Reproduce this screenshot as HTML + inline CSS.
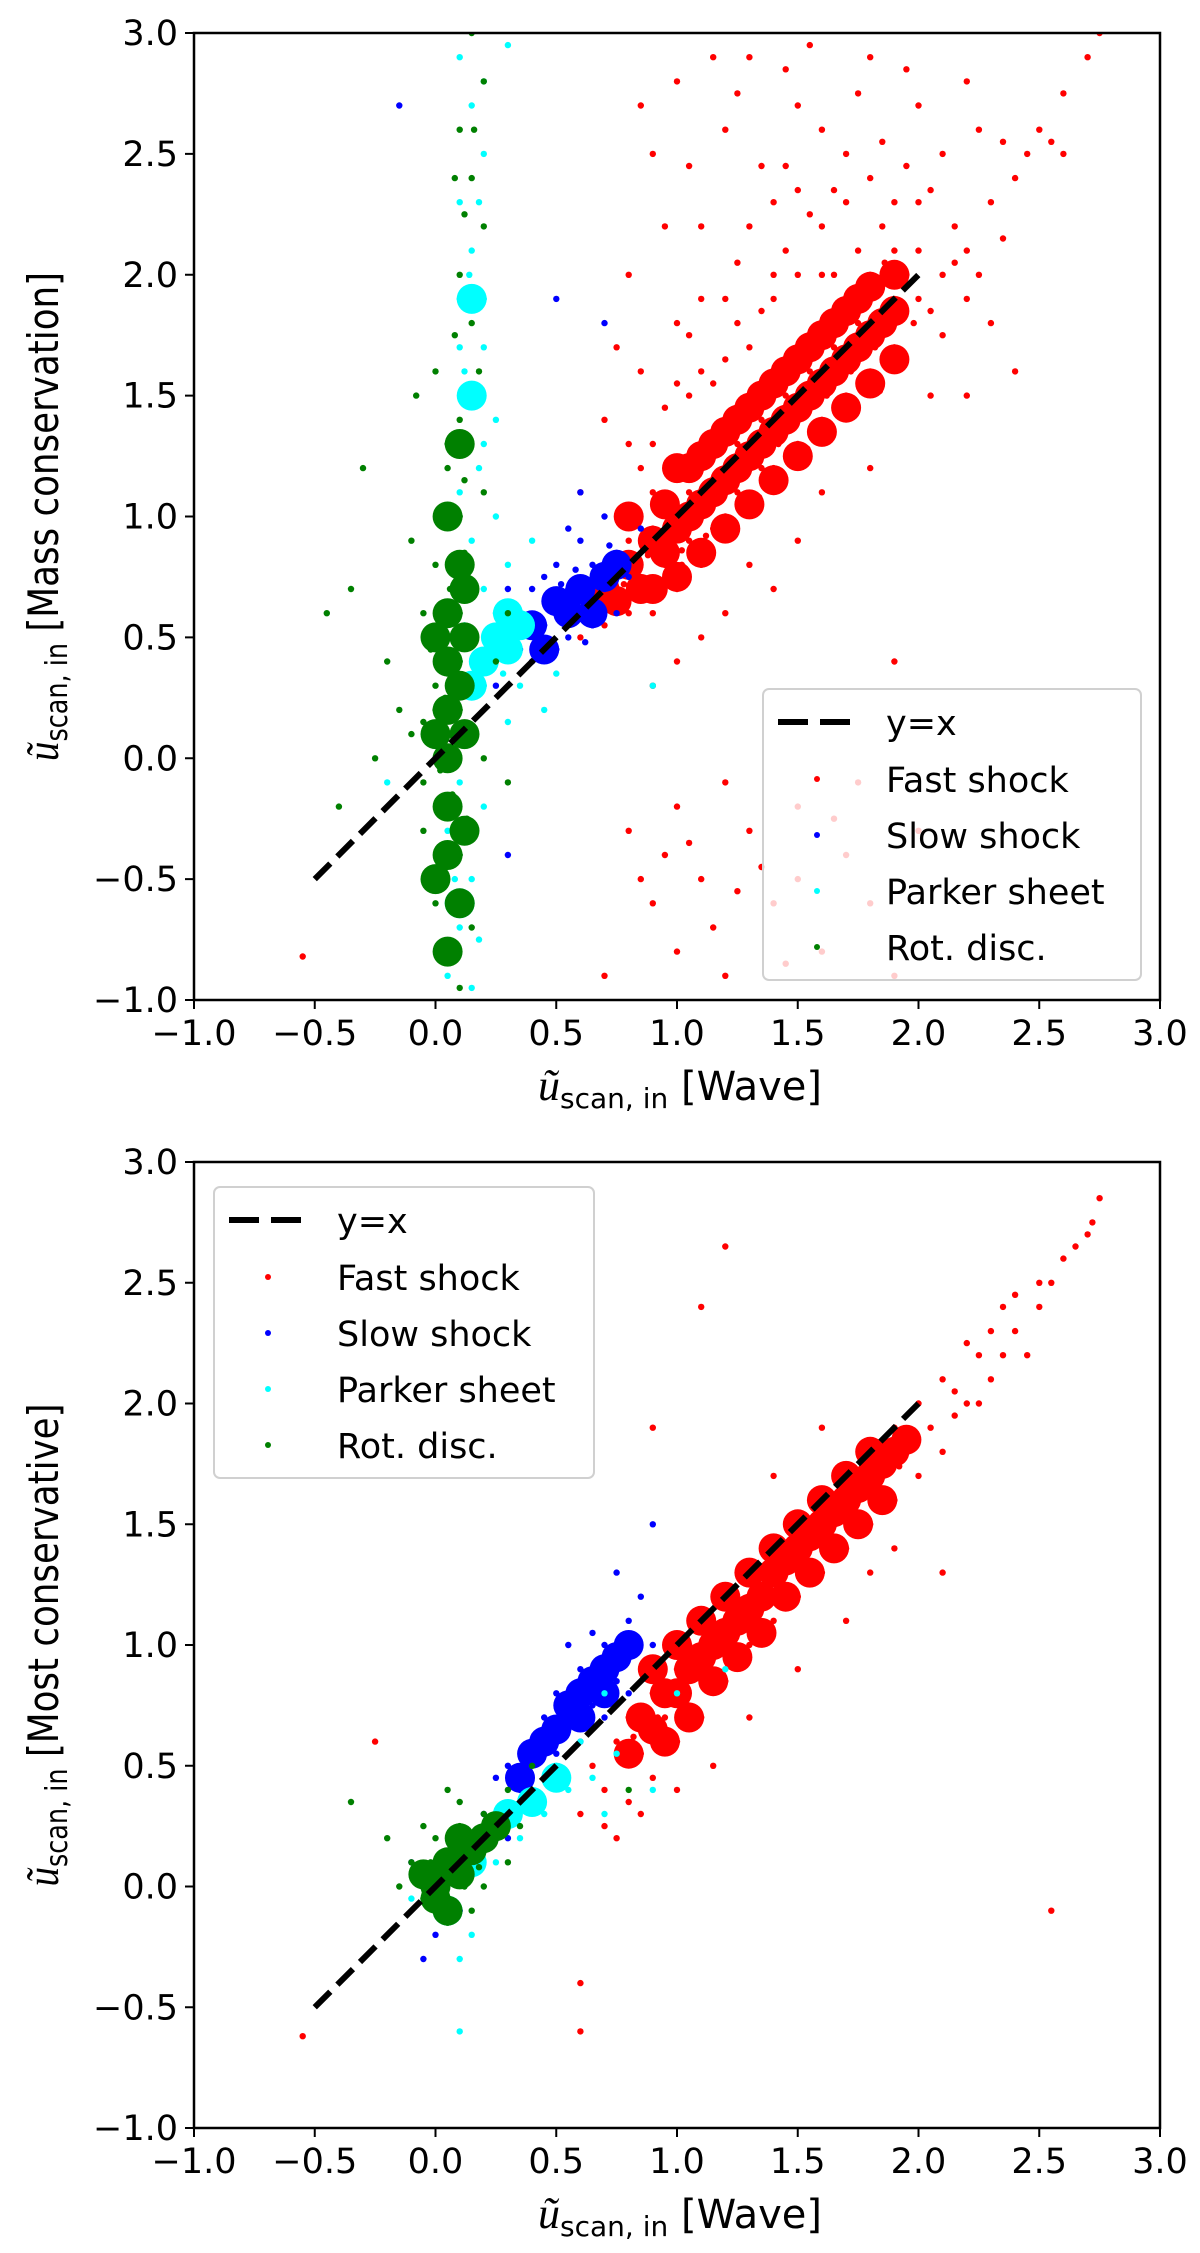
<!DOCTYPE html>
<html><head><meta charset="utf-8">
<style>
html,body{margin:0;padding:0;background:#fff;}
svg{display:block;}
text{font-family:"DejaVu Sans","Liberation Sans",sans-serif;}
</style></head>
<body>
<svg id="fig" width="1200" height="2253" viewBox="0 0 1200 2253" xmlns="http://www.w3.org/2000/svg"></svg>
<script>
// ---------- data ----------
const xTicks = [-1.0,-0.5,0.0,0.5,1.0,1.5,2.0,2.5,3.0];
const yTicks = [-1.0,-0.5,0.0,0.5,1.0,1.5,2.0,2.5,3.0];
const tickLabels = ["\u22121.0","\u22120.5","0.0","0.5","1.0","1.5","2.0","2.5","3.0"];
const seriesNames = ["Fast shock","Slow shock","Parker sheet","Rot. disc."];
const seriesColors = ["#ff0000","#0000ff","#00ffff","#008000"];
const refLine = [-0.5, 2.0];

// top panel (Mass conservation) points as flat x,y lists
const topFast = [0.6,0.5,0.65,0.7,0.7,0.55,0.75,0.8,0.8,0.6,0.8,0.9,0.85,0.75,0.9,0.95,0.9,0.6,0.95,0.8,1.0,1.0,1.0,0.7,1.0,1.2,1.05,0.9,1.05,1.1,1.1,1.0,1.1,0.8,1.1,1.3,1.15,1.15,1.15,0.95,1.2,1.2,1.2,1.0,1.2,1.4,1.25,1.1,1.25,1.3,1.3,1.3,1.3,1.05,1.3,1.5,1.35,1.2,1.35,1.4,1.4,1.4,1.4,1.2,1.4,1.6,1.45,1.35,1.45,1.5,1.5,1.5,1.5,1.3,1.5,1.7,1.55,1.45,1.55,1.6,1.6,1.6,1.6,1.4,1.6,1.8,1.65,1.55,1.65,1.7,1.7,1.7,1.7,1.5,1.7,1.9,1.75,1.65,1.75,1.8,1.8,1.8,1.8,1.6,1.8,2.0,1.85,1.75,1.9,1.9,1.9,1.7,1.95,2.0,2.0,1.9,2.0,2.1,2.05,1.85,2.1,2.0,2.2,2.1,2.3,2.3,2.4,2.4,2.5,2.6,2.6,2.5,2.7,2.9,2.75,3.0,
0.72,0.66,0.78,0.72,0.88,0.84,0.92,0.74,0.98,0.92,1.02,0.86,1.08,1.04,1.12,0.92,1.18,1.08,1.22,1.14,1.28,1.2,1.32,1.22,1.38,1.32,1.42,1.3,1.48,1.42,1.52,1.44,1.58,1.52,1.62,1.5,1.68,1.62,1.72,1.6,1.78,1.72,1.82,1.7,1.88,1.82,1.92,1.84,1.98,1.8,0.96,1.06,1.06,1.2,1.16,1.3,1.26,1.45,1.36,1.56,1.46,1.65,1.56,1.75,1.66,1.86,1.76,1.95,1.86,2.05,1.02,0.8,1.14,0.86,1.24,0.96,1.34,1.08,1.44,1.16,1.54,1.28,1.64,1.36,1.74,1.46,1.84,1.52,
0.7,1.4,0.8,2.0,0.9,2.5,1.0,1.8,1.0,2.8,1.1,2.2,1.2,2.6,1.2,1.9,1.3,2.9,1.4,2.3,1.4,1.9,1.5,2.7,1.6,2.2,1.7,2.5,1.8,2.9,1.9,2.3,2.0,2.7,2.1,2.5,2.2,2.8,2.3,1.8,2.4,1.6,2.2,1.5,0.6,1.1,0.85,1.6,1.1,1.6,1.3,1.7,1.5,2.0,1.6,2.6,0.95,2.2,1.15,2.9,1.75,2.1,2.05,1.5,0.9,1.3,1.05,1.5,1.25,1.8,1.45,2.1,1.65,2.0,1.85,2.2,2.15,2.2,2.25,2.0,2.35,2.55,2.55,2.55,1.35,2.45,0.75,1.7,
0.85,1.2,0.95,1.45,1.05,1.75,1.15,1.55,1.25,2.05,1.35,1.85,1.45,2.45,1.55,2.25,1.65,2.35,1.75,2.75,1.85,2.55,1.95,2.45,2.05,2.35,2.15,2.05,2.25,2.6,2.35,2.15,2.45,2.5,2.6,2.75,0.8,1.3,0.9,1.1,1.0,1.55,1.1,1.9,1.2,1.65,1.3,2.2,1.4,2.0,1.5,2.35,1.6,2.0,1.7,2.3,1.8,2.4,1.9,2.1,2.0,2.3,2.1,1.75,2.2,1.9,1.05,2.45,1.25,2.75,1.45,2.85,0.85,2.7,1.55,2.95,1.95,2.85,
0.9,0.3,1.1,0.5,1.2,0.6,1.3,0.8,1.5,0.9,1.6,1.1,1.8,1.2,1.9,0.4,1.4,0.7,1.0,0.4,
0.8,-0.3,0.9,-0.6,1.0,-0.2,1.0,-0.8,1.1,-0.5,1.2,-0.9,1.3,-0.3,1.4,-0.6,1.5,-0.2,1.6,-0.8,1.7,-0.4,1.8,-0.6,1.9,-0.9,2.0,-0.3,1.2,-0.1,1.5,-0.5,-0.55,-0.82,0.95,-0.4,1.15,-0.7,1.35,-0.45,1.75,-0.1,0.85,-0.5,1.05,-0.35,1.25,-0.55,1.45,-0.85,1.65,-0.25,0.7,-0.9];
const topFastCore = [0.7,0.7,0.75,0.65,0.8,0.8,0.85,0.7,0.9,0.9,0.95,0.85,1.0,0.95,1.05,1.0,1.1,1.05,1.15,1.1,1.2,1.15,1.25,1.2,1.3,1.25,1.35,1.3,1.4,1.35,1.45,1.4,1.5,1.45,1.55,1.5,1.6,1.55,1.65,1.6,1.7,1.65,1.75,1.7,1.8,1.75,1.85,1.8,1.9,1.85,
0.8,1.0,0.9,0.7,1.0,1.2,1.0,0.75,1.1,1.25,1.1,0.85,1.2,1.35,1.2,0.95,1.3,1.45,1.3,1.05,1.4,1.55,1.4,1.15,1.5,1.65,1.5,1.25,1.6,1.75,1.6,1.35,1.7,1.85,1.7,1.45,1.8,1.95,1.8,1.55,1.9,2.0,1.9,1.65,0.95,1.05,1.05,1.2,1.15,1.3,1.25,1.4,1.35,1.5,1.45,1.6,1.55,1.7,1.65,1.8,1.75,1.9];
const topSlow = [0.3,0.5,0.35,0.6,0.4,0.4,0.4,0.7,0.45,0.55,0.5,0.6,0.5,0.8,0.55,0.5,0.55,0.7,0.6,0.65,0.6,0.9,0.65,0.55,0.65,0.8,0.7,0.7,0.7,1.0,0.75,0.6,0.75,0.85,0.8,0.75,0.45,0.75,0.5,0.45,0.35,0.45,0.6,1.1,0.7,1.8,-0.15,2.7,0.25,0.3,0.85,0.95,0.3,0.7,0.55,0.95,0.48,0.66,0.58,0.78,0.68,0.62,0.62,0.48,0.42,0.58,0.52,0.72,0.72,0.88,0.5,1.9,0.3,-0.4];
const topSlowCore = [0.4,0.55,0.5,0.65,0.6,0.7,0.7,0.75,0.55,0.6,0.65,0.6,0.45,0.45,0.75,0.8];
const topParker = [0.1,2.9,0.15,2.7,0.2,2.5,0.1,2.3,0.15,2.1,0.2,1.9,0.1,1.7,0.15,1.5,0.2,1.3,0.1,1.1,0.15,0.9,0.2,0.7,0.25,0.6,0.3,0.5,0.1,0.4,0.2,0.3,0.05,0.2,0.15,0.1,0.0,0.0,0.1,-0.1,0.05,-0.3,0.15,-0.5,0.1,-0.7,0.05,-0.9,0.15,-0.95,0.3,0.8,0.35,0.3,0.4,0.9,0.25,1.0,0.45,0.2,0.5,0.35,0.2,-0.2,0.1,1.9,0.18,2.3,0.25,1.4,0.3,0.15,-0.2,-0.1,0.9,0.3,0.22,0.45,0.28,0.35,0.12,0.55,0.08,-0.5,0.18,-0.75,0.3,2.95,0.2,2.8,0.12,1.6,0.18,1.2,0.14,2.0,0.2,1.7,0.1,0.8];
const topParkerCore = [0.2,0.4,0.25,0.5,0.15,0.3,0.3,0.45,0.15,1.9,0.15,1.5,0.1,-0.6,0.3,0.6,0.35,0.55];
const topRot = [0.0,0.0,0.05,0.1,0.1,0.2,-0.05,-0.1,0.0,0.3,0.05,0.5,0.1,0.4,-0.05,0.6,0.15,0.7,0.0,0.8,0.1,1.0,-0.1,0.9,0.05,1.2,0.2,1.1,0.1,1.4,0.0,1.6,0.15,1.8,0.1,2.0,0.2,2.2,0.15,2.4,0.1,2.6,0.2,2.8,0.15,3.0,-0.05,-0.3,0.1,-0.4,0.0,-0.6,0.15,-0.7,0.05,-0.8,0.1,-0.95,-0.2,0.4,-0.3,1.2,-0.35,0.7,-0.15,0.2,0.25,0.4,0.3,0.6,0.2,0.0,0.05,-0.2,-0.1,0.1,0.0,0.2,0.1,0.6,-0.4,-0.2,0.3,-0.1,0.05,0.35,-0.05,0.15,-0.45,0.6,-0.25,0.0,0.02,0.05,0.08,0.12,0.04,0.25,0.12,0.3,-0.02,0.45,0.06,0.7,0.12,0.85,0.02,-0.05,0.07,-0.15,0.13,-0.25,-0.08,1.5,0.08,1.75,0.12,2.25,0.05,1.3,0.12,1.15,0.18,1.6,0.08,2.4,0.16,2.6];
const topRotCore = [0.05,0.0,0.05,0.2,0.05,0.4,0.05,0.6,0.05,-0.2,0.0,0.1,0.1,0.3,0.05,-0.4,0.1,0.8,0.05,1.0,0.1,-0.6,0.05,-0.8,0.1,1.3,0.12,0.1,0.12,0.5,0.0,0.5,0.12,-0.3,0.0,-0.5,0.12,0.7];

// bottom panel (Most conservative)
const botFast = [0.6,0.3,0.65,0.5,0.7,0.4,0.75,0.6,0.8,0.35,0.8,0.7,0.85,0.55,0.9,0.8,0.9,0.45,0.95,0.7,1.0,0.9,1.0,0.6,1.05,1.0,1.05,0.75,1.1,0.9,1.1,1.1,1.1,0.7,1.15,1.0,1.2,1.2,1.2,0.85,1.25,1.1,1.25,0.95,1.3,1.3,1.3,1.0,1.35,1.2,1.4,1.4,1.4,1.1,1.45,1.3,1.5,1.5,1.5,1.2,1.55,1.4,1.6,1.6,1.6,1.3,1.65,1.5,1.7,1.7,1.7,1.4,1.75,1.6,1.8,1.8,1.8,1.5,1.85,1.7,1.9,1.9,1.9,1.6,1.95,1.8,2.0,2.0,2.0,1.7,2.05,1.9,2.1,2.1,2.1,1.8,2.2,2.0,2.25,2.2,2.3,2.1,2.35,2.4,2.4,2.3,2.5,2.4,2.55,2.5,2.7,2.7,2.75,2.85,2.6,2.6,
0.82,0.62,0.88,0.66,0.92,0.7,0.98,0.82,1.02,0.78,1.08,0.94,1.12,0.96,1.18,1.04,1.22,1.02,1.28,1.16,1.32,1.14,1.38,1.26,1.42,1.24,1.48,1.36,1.52,1.34,1.58,1.46,1.62,1.44,1.68,1.56,1.72,1.54,1.78,1.66,1.82,1.64,1.88,1.76,1.92,1.74,1.98,1.86,2.15,1.95,2.45,2.2,1.06,1.08,1.16,1.18,1.26,1.28,1.36,1.38,1.46,1.48,1.56,1.58,1.66,1.68,1.76,1.78,
2.2,2.25,2.3,2.3,2.4,2.45,2.5,2.5,2.15,2.05,2.25,2.0,2.35,2.2,2.65,2.65,2.72,2.75,
0.9,1.9,1.1,2.4,1.2,2.65,2.55,-0.1,0.6,-0.4,0.6,-0.6,-0.55,-0.62,-0.25,0.6,0.75,0.2,1.0,0.4,1.3,0.7,1.5,0.9,1.7,1.1,2.1,1.3,1.15,0.5,1.6,1.9,1.4,1.7,0.7,0.25,0.85,0.3,1.8,1.3,1.9,1.4];
const botFastCore = [0.8,0.55,0.85,0.7,0.9,0.65,0.95,0.8,1.0,0.8,1.05,0.9,1.1,0.95,1.15,1.0,1.2,1.05,1.25,1.1,1.3,1.15,1.35,1.2,1.4,1.3,1.45,1.35,1.5,1.4,1.55,1.45,1.6,1.5,1.65,1.55,1.7,1.6,1.75,1.65,1.8,1.7,1.85,1.75,1.9,1.8,1.95,1.85,
0.9,0.9,1.0,1.0,1.1,1.1,1.2,1.2,1.3,1.3,1.4,1.4,1.5,1.5,1.6,1.6,1.7,1.7,1.8,1.8,0.95,0.6,1.05,0.7,1.15,0.85,1.25,0.95,1.35,1.05,1.45,1.2,1.55,1.3,1.65,1.4,1.75,1.5,1.85,1.6];
const botSlow = [0.2,0.3,0.3,0.5,0.35,0.4,0.4,0.6,0.45,0.7,0.5,0.55,0.5,0.8,0.55,0.65,0.6,0.9,0.6,0.6,0.65,0.75,0.7,1.0,0.7,0.7,0.75,0.85,0.8,1.1,0.8,0.8,0.85,1.2,0.9,1.0,0.55,1.0,0.45,0.45,0.3,0.2,0.25,0.45,0.65,1.05,0.75,1.3,0.9,1.5,0.1,-0.1,-0.05,-0.3,0.0,-0.2,-0.1,0.1,0.52,0.68,0.62,0.8,0.72,0.88,0.58,0.74,0.68,0.92,0.42,0.52,0.78,0.96];
const botSlowCore = [0.4,0.55,0.5,0.65,0.55,0.75,0.6,0.8,0.65,0.85,0.7,0.9,0.75,0.95,0.45,0.6,0.8,1.0,0.35,0.45,0.6,0.7,0.7,0.8];
const botParker = [0.0,0.0,0.05,-0.1,0.1,0.1,0.15,-0.2,0.2,0.2,0.25,0.1,0.3,0.3,0.35,0.2,0.4,0.4,0.45,0.3,0.5,0.5,0.55,0.4,0.6,0.6,0.65,0.45,0.7,0.8,0.75,0.55,0.1,-0.3,-0.1,-0.05,0.1,-0.6,0.7,0.3,0.9,0.4,1.0,0.8,1.2,0.9];
const botParkerCore = [0.3,0.3,0.4,0.35,0.5,0.45,0.15,0.1,0.05,-0.1];
const botRot = [0.0,0.0,0.05,0.1,0.1,0.05,-0.05,-0.05,0.0,0.2,0.1,0.25,0.15,0.15,0.2,0.3,0.25,0.2,0.05,-0.15,-0.1,0.1,0.15,-0.1,0.3,0.4,0.2,0.0,0.1,0.35,-0.05,0.25,0.3,0.1,0.35,0.25,0.0,-0.1,-0.15,0.0,-0.2,0.2,-0.35,0.35,0.4,0.5,0.05,0.4,0.8,0.4,0.02,0.05,0.08,0.15,0.12,0.0,0.18,0.08,0.06,0.22,-0.02,0.1];
const botRotCore = [0.0,0.0,0.05,0.1,0.1,0.05,0.15,0.15,0.2,0.2,0.0,-0.05,0.1,0.2,-0.05,0.05,0.25,0.25,0.05,-0.1];

// ---------- drawing ----------
const NS = "http://www.w3.org/2000/svg";
const svg = document.getElementById('fig');
function mk(tag, attrs, parent){
  const e = document.createElementNS(NS, tag);
  for (const k in attrs) e.setAttribute(k, attrs[k]);
  (parent||svg).appendChild(e);
  return e;
}
const L = 194, R = 1160;
function sx(v){ return L + (v + 1) * (R - L) / 4; }

function panel(top, bottom, ylabelMain, series, cores, legendBox, panelName){
  const g = mk('g', {});
  
  
  function sy(v){ return bottom - (v + 1) * (bottom - top) / 4; }
  const clipId = panelName + '-clip';
  const cp = mk('clipPath', {id: clipId}, g);
  mk('rect', {x: L, y: top, width: R - L, height: bottom - top}, cp);
  const pts = mk('g', {'clip-path': 'url(#' + clipId + ')'}, g);
  
  
  [0, 1, 2, 3].forEach(si => {
    const sg = mk('g', {fill: seriesColors[si]}, pts);
    
    
    const core = cores[si];
    for (let i = 0; i < core.length; i += 2) {
      const c = mk('circle', {cx: sx(core[i]).toFixed(1), cy: sy(core[i+1]).toFixed(1), r: 15}, sg);
      
      
    }
    const arr = series[si];
    for (let i = 0; i < arr.length; i += 2) {
      const c = mk('circle', {cx: sx(arr[i]).toFixed(1), cy: sy(arr[i+1]).toFixed(1), r: 3.2}, sg);
      
      
    }
  });
  const ln = mk('line', {x1: sx(refLine[0]), y1: sy(refLine[0]), x2: sx(refLine[1]), y2: sy(refLine[1]),
    stroke: '#000', 'stroke-width': 6, 'stroke-dasharray': '22,10'}, pts);
  
  
  const fr = mk('rect', {x: L, y: top, width: R - L, height: bottom - top, fill: 'none', stroke: '#000', 'stroke-width': 2.5}, g);
  
  
  xTicks.forEach((v, i) => {
    const t = mk('line', {x1: sx(v), x2: sx(v), y1: bottom, y2: bottom + 9, stroke: '#000', 'stroke-width': 2}, g);
    
    
    const tx = mk('text', {x: sx(v), y: bottom + 45, 'font-size': 35, 'text-anchor': 'middle'}, g);
    tx.textContent = tickLabels[i];
    
    
  });
  yTicks.forEach((v, i) => {
    const t = mk('line', {x1: L - 9, x2: L, y1: sy(v), y2: sy(v), stroke: '#000', 'stroke-width': 2}, g);
    
    
    const tx = mk('text', {x: L - 16, y: sy(v) + 12, 'font-size': 35, 'text-anchor': 'end'}, g);
    tx.textContent = tickLabels[i];
    
    
  });
  const xl = mk('text', {x: 680, y: bottom + 100, 'font-size': 40, 'text-anchor': 'middle'}, g);
  xl.innerHTML = '<tspan font-style="italic" font-family="Liberation Serif, serif" font-size="44">ũ</tspan><tspan font-size="28" dy="8">scan, in</tspan><tspan dy="-8"> [Wave]</tspan>';
  
  
  const cy = (top + bottom) / 2;
  const yl = mk('text', {x: 0, y: 0, 'font-size': 42, 'text-anchor': 'middle', 'font-family': 'Liberation Sans, sans-serif',
    transform: 'translate(58,' + cy + ') rotate(-90) scale(0.85,1)'}, g);
  yl.innerHTML = '<tspan font-style="italic" font-family="Liberation Serif, serif" font-size="46">ũ</tspan><tspan font-size="30" dy="9">scan, in</tspan><tspan dy="-9"> [' + ylabelMain + ']</tspan>';
  
  
  const lg = mk('g', {}, g);
  
  
  const b = legendBox;
  mk('rect', {x: b.x, y: b.y, width: b.w, height: b.h, rx: 6, fill: 'rgba(255,255,255,0.8)', stroke: '#d0d0d0', 'stroke-width': 2}, lg);
  const rows = [b.y + 33, b.y + 90, b.y + 146, b.y + 202, b.y + 258];
  const ll = mk('line', {x1: b.x + 15, x2: b.x + 88, y1: rows[0], y2: rows[0], stroke: '#000', 'stroke-width': 6, 'stroke-dasharray': '30,12'}, lg);
  
  
  const lt = mk('text', {x: b.x + 123, y: rows[0] + 13, 'font-size': 35}, lg);
  lt.textContent = 'y=x';
  
  
  seriesNames.forEach((n, i) => {
    const c = mk('circle', {cx: b.x + 54, cy: rows[i+1], r: 3, fill: seriesColors[i]}, lg);
    
    
    const t = mk('text', {x: b.x + 123, y: rows[i+1] + 13, 'font-size': 35}, lg);
    t.textContent = n;
    
    
  });
}

panel(33, 1000, 'Mass conservation', [topFast, topSlow, topParker, topRot], [topFastCore, topSlowCore, topParkerCore, topRotCore], {x: 763, y: 689, w: 378, h: 291}, 'top-panel');
panel(1162, 2128, 'Most conservative', [botFast, botSlow, botParker, botRot], [botFastCore, botSlowCore, botParkerCore, botRotCore], {x: 214, y: 1187, w: 380, h: 291}, 'bottom-panel');
</script>
</body></html>
